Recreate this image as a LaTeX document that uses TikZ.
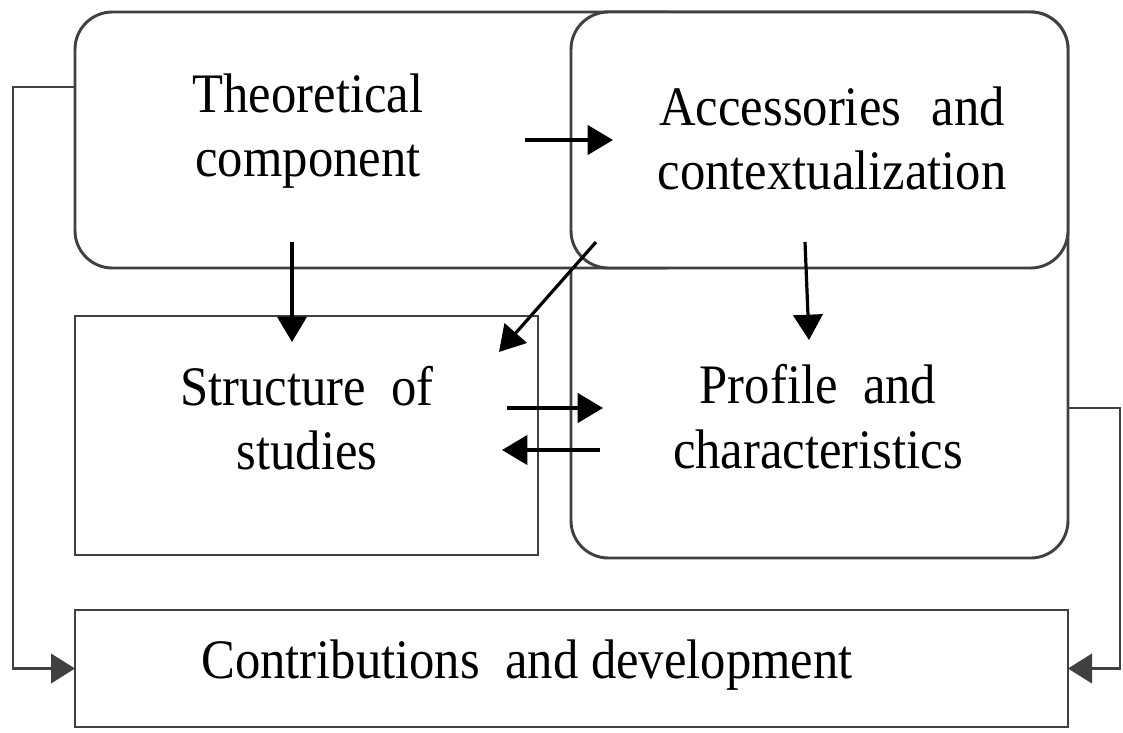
\documentclass[tikz,border=0pt]{standalone}
\usepackage{graphicx}
\usepackage{fontspec}
\setmainfont{Liberation Serif}
\usetikzlibrary{arrows.meta,calc}
\newcommand\vstr[1]{\scalebox{1}[1.1]{\begin{tabular}{@{}c@{}}#1\end{tabular}}}
\begin{document}
\begin{tikzpicture}[x=0.75pt,y=-0.75pt,
  boxline/.style={draw=black!75, line width=2.2pt},
  rbox/.style={boxline, fill=white, rounded corners=28pt, inner sep=0pt, outer sep=0pt},
  sbox/.style={boxline, fill=white, inner sep=0pt, outer sep=0pt},
  lbl/.style={font=\fontsize{38}{44}\selectfont, inner sep=0pt},
  arr/.style={draw=black, line width=2.4pt, -{Triangle[length=19pt,width=22pt]}},
  conn/.style={draw=black!75, line width=2.2pt, -{Triangle[length=18pt,width=22pt]}}
]
\useasboundingbox (0,0) rectangle (1123,732);
% boxes
\node[rbox, minimum width={497*0.75pt}, minimum height={546*0.75pt}] (prof) at (819.5,285) {};
\node[rbox, minimum width={625*0.75pt}, minimum height={256*0.75pt}] (theo) at (387.5,140) {};
\node[rbox, minimum width={497*0.75pt}, minimum height={256*0.75pt}] (acc) at (819.5,140) {};
\node[sbox, minimum width={463*0.75pt}, minimum height={239*0.75pt}] (struct) at (306.5,435.5) {};
\node[sbox, minimum width={993*0.75pt}, minimum height={117*0.75pt}] (contrib) at (571.5,668.5) {};
% labels
\node[lbl] (theoT) at (308,131.5) {\vstr{Theoretical\\component}};
\node[lbl] (accT) at (832,144.5) {\vstr{Accessories\hspace{0.6em}and\\contextualization}};
\node[lbl] (structT) at (307,424.5) {\vstr{Structure\hspace{0.5em}of\\studies}};
\node[lbl] (profT) at (818,423) {\vstr{Profile\hspace{0.5em}and\\characteristics}};
\node[lbl, anchor=base] (contT) at (527,678) {\scalebox{1}[1.1]{Contributions\hspace{0.5em}and development}};
% arrow end points
\coordinate (a1s) at (525,140);  \coordinate (a1e) at (613,140);
\coordinate (a2s) at (292,242);  \coordinate (a2e) at (292,342);
\coordinate (a3s) at (596,242);  \coordinate (a3e) at (499,352);
\coordinate (a4s) at (805,242);  \coordinate (a4e) at (809,340);
\coordinate (a5s) at (507,408);  \coordinate (a5e) at (603,408);
\coordinate (a6s) at (600,450);  \coordinate (a6e) at (502,450);
\draw[arr] (a1s) -- (a1e);
\draw[arr] (a2s) -- (a2e);
\draw[arr] (a3s) -- (a3e);
\draw[arr] (a4s) -- (a4e);
\draw[arr] (a5s) -- (a5e);
\draw[arr] (a6s) -- (a6e);
% side connectors
\coordinate (lstart) at ($(theo.west)+(0,-53)$);
\coordinate (rstart) at ($(prof.east)+(0,123)$);
\draw[conn] (lstart) -- (13,87) |- (contrib.west);
\draw[conn] (rstart) -- (1120,408) |- (contrib.east);
\end{tikzpicture}
\end{document}
